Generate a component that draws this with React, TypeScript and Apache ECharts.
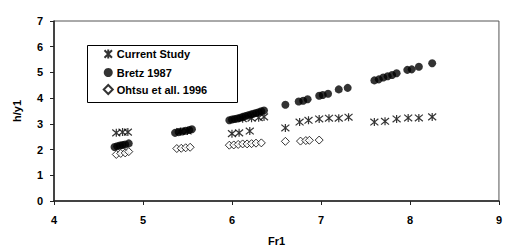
import React, { useEffect, useRef } from "react";
import * as echarts from "echarts";

const currentX = [4.7, 4.77, 4.83, 5.42, 5.5, 6.0, 6.08, 6.2, 6.12, 6.22, 6.3, 6.36, 6.6, 6.76, 6.86, 6.98, 7.09, 7.2, 7.31, 7.6, 7.72, 7.85, 7.98, 8.1, 8.25];
const currentY = [2.65, 2.68, 2.68, 2.7, 2.72, 2.62, 2.65, 2.72, 3.2, 3.22, 3.24, 3.27, 2.84, 3.07, 3.14, 3.19, 3.22, 3.22, 3.26, 3.07, 3.1, 3.19, 3.23, 3.23, 3.27];

const bretzX = [4.68, 4.71, 4.74, 4.77, 4.8, 4.84, 5.36, 5.4, 5.44, 5.48, 5.52, 5.55, 5.97, 6.0, 6.03, 6.06, 6.09, 6.12, 6.15, 6.18, 6.21, 6.24, 6.27, 6.3, 6.33, 6.36, 6.6, 6.75, 6.8, 6.85, 6.98, 7.02, 7.08, 7.2, 7.3, 7.6, 7.65, 7.7, 7.75, 7.8, 7.85, 7.97, 8.02, 8.1, 8.25];
const bretzY = [2.1, 2.13, 2.16, 2.18, 2.2, 2.24, 2.65, 2.68, 2.7, 2.73, 2.76, 2.79, 3.14, 3.17, 3.19, 3.21, 3.24, 3.27, 3.3, 3.33, 3.36, 3.39, 3.42, 3.45, 3.49, 3.52, 3.74, 3.87, 3.9, 3.96, 4.09, 4.12, 4.17, 4.34, 4.4, 4.69, 4.73, 4.8, 4.85, 4.9, 4.97, 5.1, 5.12, 5.22, 5.36];

const ohtsuX = [4.7, 4.75, 4.8, 4.84, 5.38, 5.43, 5.48, 5.53, 5.97, 6.02, 6.07, 6.12, 6.17, 6.22, 6.27, 6.33, 6.6, 6.77, 6.83, 6.87, 6.98];
const ohtsuY = [1.81, 1.85, 1.87, 1.92, 2.04, 2.05, 2.07, 2.09, 2.17, 2.18, 2.2, 2.22, 2.22, 2.23, 2.25, 2.26, 2.32, 2.33, 2.35, 2.36, 2.37];

const seriesNames = ["Current Study", "Bretz 1987", "Ohtsu et all. 1996"];
const xTicks = [4, 5, 6, 7, 8, 9];
const yTicks = [0, 1, 2, 3, 4, 5, 6, 7];

const ASTERISK = "path://M0,0 L10,10 M10,0 L0,10 M5,-1 L5,11";
const DIAMOND = "path://M5,0 L10,5 L5,10 L0,5 Z";

const zip = (xs: number[], ys: number[]) => xs.map((x, i) => [x, ys[i]]);

export default function App() {
  const ref = useRef<HTMLDivElement>(null);
  useEffect(() => {
    if (!ref.current) return;
    const chart = echarts.init(ref.current, undefined, { renderer: "svg" });
    const font = "'Liberation Sans', Arial, sans-serif";
    chart.setOption({
      animation: false,
      backgroundColor: "#fff",
      grid: {
        left: 54,
        top: 21,
        right: 2,
        bottom: 48,
        show: true,
        borderColor: "#555",
        borderWidth: 1,
        backgroundColor: "transparent",
      },
      graphic: [
        {
          type: "rect",
          left: 87,
          top: 45,
          shape: { width: 150, height: 57 },
          style: { fill: "#fff", stroke: "#000", lineWidth: 1 },
          z: 1,
        },
      ],
      legend: {
        orient: "vertical",
        left: 102,
        top: 47,
        padding: 0,
        itemGap: 6,
        itemWidth: 9,
        itemHeight: 9,
        z: 10,
        data: seriesNames,
        textStyle: { fontFamily: font, fontWeight: "bold", fontSize: 11, color: "#000", padding: [0, 0, 0, -1] },
      },
      xAxis: {
        type: "value",
        min: xTicks[0],
        max: xTicks[xTicks.length - 1],
        interval: 1,
        name: "Fr1",
        nameLocation: "middle",
        nameGap: 34,
        nameTextStyle: { fontFamily: font, fontWeight: "bold", fontSize: 11, color: "#000" },
        axisLine: { show: true, onZero: false, lineStyle: { color: "#222", width: 1.5 } },
        axisTick: { show: true, length: 4, lineStyle: { color: "#222" } },
        splitLine: { show: false },
        axisLabel: { fontFamily: font, fontWeight: "bold", fontSize: 11, color: "#000", margin: 13 },
      },
      yAxis: {
        type: "value",
        min: yTicks[0],
        max: yTicks[yTicks.length - 1],
        interval: 1,
        name: "h/y1",
        nameLocation: "middle",
        nameGap: 32,
        nameRotate: 90,
        nameTextStyle: { fontFamily: font, fontWeight: "bold", fontSize: 11, color: "#000" },
        axisLine: { show: true, onZero: false, lineStyle: { color: "#222", width: 1.5 } },
        axisTick: { show: true, length: 4, lineStyle: { color: "#222" } },
        splitLine: { show: false },
        axisLabel: { fontFamily: font, fontWeight: "bold", fontSize: 11, color: "#000", margin: 11 },
      },
      series: [
        {
          name: seriesNames[0],
          type: "scatter",
          symbol: ASTERISK,
          symbolSize: 8,
          itemStyle: { color: "none", borderColor: "#000", borderWidth: 1.2 },
          data: zip(currentX, currentY),
        },
        {
          name: seriesNames[1],
          type: "scatter",
          symbol: "circle",
          symbolSize: 8,
          itemStyle: { color: "#000" },
          data: zip(bretzX, bretzY),
        },
        {
          name: seriesNames[2],
          type: "scatter",
          symbol: DIAMOND,
          symbolSize: 8,
          itemStyle: { color: "#fff", borderColor: "#000", borderWidth: 1 },
          data: zip(ohtsuX, ohtsuY),
        },
      ],
    });
    return () => chart.dispose();
  }, []);
  return <div ref={ref} style={{ position: "fixed", left: 0, top: 0, width: 505, height: 251 }} />;
}
